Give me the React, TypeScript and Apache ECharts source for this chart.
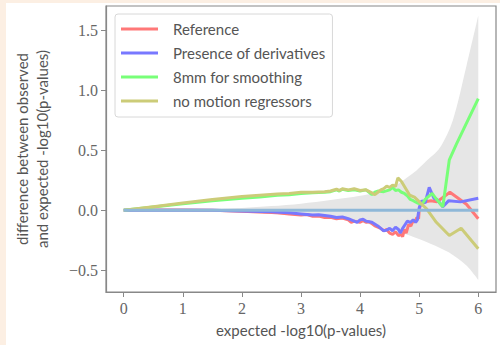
import React, { useEffect, useRef } from "react";
import * as echarts from "echarts";

const seriesNames = ["Reference", "Presence of derivatives", "8mm for smoothing", "no motion regressors"];
const seriesColors = ["#ff7878", "#7878ff", "#78ff78", "#cccc78"];

const referenceData: number[][] = [
  [0, 0], [0.5, 0.002], [1, 0.003], [1.5, 0.0], [2, -0.008], [2.3, -0.015], [2.6, -0.02], [2.8, -0.03],
  [3.0, -0.04], [3.1, -0.035], [3.2, -0.05], [3.3, -0.048], [3.4, -0.06], [3.5, -0.058], [3.6, -0.07],
  [3.7, -0.065], [3.8, -0.08], [3.85, -0.1], [3.9, -0.09], [4.0, -0.1], [4.05, -0.085], [4.1, -0.1],
  [4.15, -0.095], [4.2, -0.11], [4.25, -0.13], [4.3, -0.14], [4.35, -0.15], [4.4, -0.17], [4.45, -0.16],
  [4.5, -0.19], [4.55, -0.2], [4.6, -0.18], [4.65, -0.21], [4.7, -0.2], [4.72, -0.22], [4.75, -0.16],
  [4.78, -0.19], [4.82, -0.12], [4.86, -0.13], [4.9, -0.08], [4.93, -0.1], [4.96, -0.06], [4.99, -0.07],
  [5.0, 0.0], [5.03, 0.07], [5.1, 0.07], [5.2, 0.08], [5.3, 0.07], [5.52, 0.15], [5.8, 0.05], [6.0, -0.07],
];

const derivativesData: number[][] = [
  [0, 0], [1, 0.0], [1.5, 0.0], [2, -0.005], [2.5, -0.012], [2.8, -0.02], [3.0, -0.03], [3.2, -0.04],
  [3.3, -0.037], [3.5, -0.05], [3.6, -0.06], [3.7, -0.055], [3.8, -0.07], [3.9, -0.09], [3.95, -0.1],
  [4.0, -0.08], [4.05, -0.075], [4.1, -0.09], [4.2, -0.1], [4.3, -0.13], [4.35, -0.15], [4.4, -0.17],
  [4.45, -0.165], [4.5, -0.15], [4.55, -0.17], [4.6, -0.14], [4.65, -0.16], [4.68, -0.19], [4.72, -0.15],
  [4.76, -0.12], [4.8, -0.09], [4.85, -0.1], [4.9, -0.08], [4.94, -0.1], [4.97, -0.08], [5.0, 0.02],
  [5.05, 0.08], [5.1, 0.06], [5.17, 0.19], [5.25, 0.1], [5.3, 0.09], [5.4, 0.03], [5.5, 0.08],
  [5.7, 0.07], [6.0, 0.1],
];

const smoothingData: number[][] = [
  [0, 0], [0.5, 0.028], [1, 0.055], [1.5, 0.08], [2, 0.1], [2.3, 0.11], [2.6, 0.125], [2.8, 0.13],
  [3.0, 0.14], [3.2, 0.145], [3.4, 0.15], [3.5, 0.155], [3.6, 0.17], [3.65, 0.16], [3.7, 0.175],
  [3.8, 0.165], [3.9, 0.17], [4.0, 0.16], [4.1, 0.17], [4.2, 0.13], [4.25, 0.15], [4.3, 0.16],
  [4.4, 0.155], [4.5, 0.17], [4.55, 0.19], [4.6, 0.165], [4.65, 0.17], [4.7, 0.15], [4.75, 0.14],
  [4.8, 0.12], [4.85, 0.09], [4.9, 0.08], [4.97, 0.06], [5.05, 0.05], [5.1, 0.09], [5.22, 0.14],
  [5.28, 0.1], [5.4, 0.03], [5.51, 0.42], [5.63, 0.55], [6.0, 0.93],
];

const noMotionData: number[][] = [
  [0, 0], [0.5, 0.03], [1, 0.06], [1.5, 0.09], [2, 0.115], [2.3, 0.125], [2.6, 0.135], [2.8, 0.14],
  [3.0, 0.15], [3.2, 0.15], [3.4, 0.155], [3.5, 0.16], [3.6, 0.175], [3.65, 0.165], [3.7, 0.18],
  [3.8, 0.17], [3.9, 0.18], [4.0, 0.165], [4.1, 0.17], [4.2, 0.145], [4.25, 0.13], [4.3, 0.15],
  [4.35, 0.17], [4.4, 0.18], [4.45, 0.2], [4.5, 0.19], [4.55, 0.21], [4.6, 0.2], [4.64, 0.27],
  [4.7, 0.24], [4.84, 0.125], [4.92, 0.11], [5.12, 0.015], [5.29, -0.1], [5.51, -0.21], [5.71, -0.15],
  [6.0, -0.32],
];

const bandUpper: number[][] = [
  [0, 0], [1, 0.005], [2, 0.02], [2.5, 0.035], [3, 0.055], [3.5, 0.085], [4, 0.12], [4.5, 0.18],
  [4.9, 0.31], [5.1, 0.4], [5.35, 0.52], [5.57, 0.75], [5.8, 1.2], [6, 1.62],
];

const bandLower: number[][] = [
  [0, 0], [1, -0.005], [2, -0.02], [3, -0.045], [3.5, -0.07], [4, -0.1], [4.5, -0.16], [4.84, -0.21],
  [5.2, -0.28], [5.5, -0.35], [5.8, -0.46], [6, -0.58],
];

const zeroLine: number[][] = [[0, 0], [6, 0]];

const xTicks = [0, 1, 2, 3, 4, 5, 6];
const yTicks = [-0.5, 0, 0.5, 1.0, 1.5];

const lineData = [referenceData, derivativesData, smoothingData, noMotionData];

export default function App() {
  const ref = useRef<HTMLDivElement>(null);
  useEffect(() => {
    if (!ref.current) return;
    const chart = echarts.init(ref.current, undefined, { renderer: "svg" });
    const tickFont = { fontFamily: "'Liberation Serif', 'DejaVu Serif', serif", fontSize: 16, color: "#666" };
    const option: any = {
      animation: false,
      backgroundColor: "#ffffff",
      grid: {
        left: 106,
        top: 6,
        width: 390,
        height: 286,
        show: true,
        borderColor: "#888",
        borderWidth: 1.2,
        backgroundColor: "#fff",
      },
      xAxis: {
        type: "value",
        min: -0.3,
        max: 6.3,
        splitLine: { show: false },
        axisLine: { show: true, onZero: false, lineStyle: { color: "#888", width: 1.2 } },
        axisTick: { show: true, customValues: xTicks, length: 5, lineStyle: { color: "#888" } },
        axisLabel: { customValues: xTicks, margin: 8, ...tickFont, formatter: (v: number) => String(v) },
      },
      yAxis: {
        type: "value",
        min: -0.68,
        max: 1.7,
        splitLine: { show: false },
        axisLine: { show: true, onZero: false, lineStyle: { color: "#888", width: 1.2 } },
        axisTick: { show: true, customValues: yTicks, length: 5, lineStyle: { color: "#888" } },
        axisLabel: {
          customValues: yTicks,
          margin: 8,
          ...tickFont,
          formatter: (v: number) => (v < 0 ? "\u2212" + Math.abs(v).toFixed(1) : v.toFixed(1)),
        },
      },
      legend: {
        data: seriesNames,
        orient: "vertical",
        left: 115,
        top: 14,
        icon: "rect",
        itemWidth: 37,
        itemHeight: 3,
        itemGap: 8,
        padding: [7, 7, 8, 6],
        backgroundColor: "rgba(255,255,255,0.85)",
        borderColor: "#d8d8d8",
        borderWidth: 1,
        borderRadius: 3,
        textStyle: {
          fontFamily: "Lato",
          fontSize: 15,
          color: "#555",
          lineHeight: 16,
          padding: [0, 0, 0, 10],
        },
      },
      graphic: [
        { type: "rect", shape: { x: 0, y: 0, width: 6, height: 345 }, style: { fill: "#fcefe3" }, z: 100 },
        { type: "rect", shape: { x: 0, y: 0, width: 500, height: 3 }, style: { fill: "#fcefe3" }, z: 100 },
        {
          type: "text",
          x: 32,
          y: 149,
          rotation: Math.PI / 2,
          style: {
            text: "difference between observed\nand expected -log10(p-values)",
            fontFamily: "Lato",
            fontSize: 15,
            lineHeight: 20,
            fill: "#555",
            align: "center",
            verticalAlign: "middle",
          },
        },
        {
          type: "text",
          x: 301,
          y: 330,
          style: {
            text: "expected -log10(p-values)",
            fontFamily: "Lato",
            fontSize: 15,
            fill: "#555",
            align: "center",
            verticalAlign: "middle",
          },
        },
      ],
      series: [
        {
          type: "line",
          name: "bandUpper",
          data: bandUpper,
          showSymbol: false,
          smooth: 0.3,
          lineStyle: { width: 0 },
          areaStyle: { color: "#e6e6e6", opacity: 1, origin: 0 },
          z: 1,
          silent: true,
        },
        {
          type: "line",
          name: "bandLower",
          data: bandLower,
          showSymbol: false,
          smooth: 0.3,
          lineStyle: { width: 0 },
          areaStyle: { color: "#e6e6e6", opacity: 1, origin: 0 },
          z: 1,
          silent: true,
        },
        ...seriesNames.map((name, i) => ({
          type: "line",
          name,
          data: lineData[i],
          showSymbol: false,
          color: seriesColors[i],
          lineStyle: { width: 3, color: seriesColors[i] },
          z: 2 + i,
        })),
        {
          type: "line",
          name: "zero",
          data: zeroLine,
          showSymbol: false,
          lineStyle: { width: 3, color: "#8fb8d8" },
          z: 10,
          silent: true,
        },
      ],
    };
    chart.setOption(option);
    return () => chart.dispose();
  }, []);
  return <div ref={ref} style={{ position: "absolute", left: 0, top: 0, width: 500, height: 345 }} />;
}
